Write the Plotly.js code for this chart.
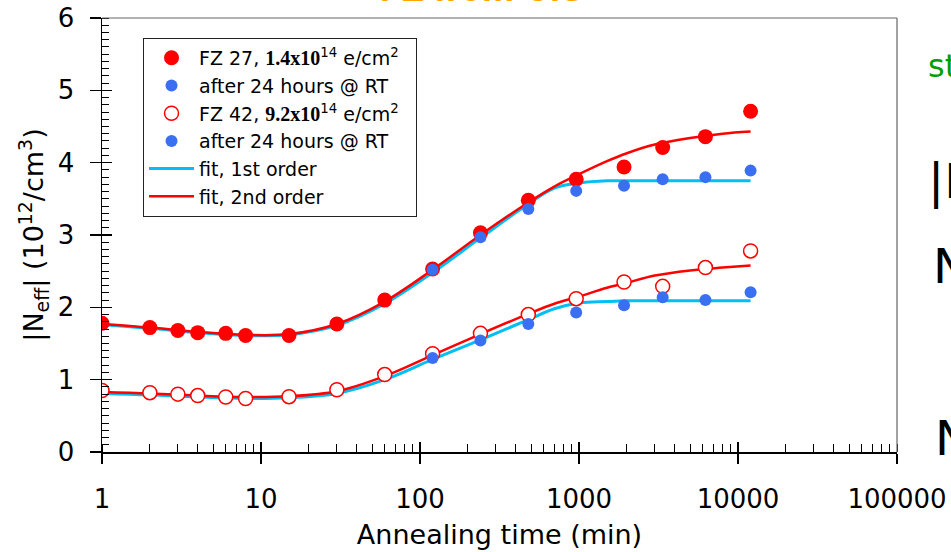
<!DOCTYPE html>
<html>
<head>
<meta charset="utf-8">
<script src="https://cdn.plot.ly/plotly-3.0.1.min.js"></script>
<style>
html,body{margin:0;padding:0;background:#fff;overflow:hidden;width:951px;height:552px;position:relative}
.side{position:absolute;white-space:nowrap;z-index:5;font-family:'DejaVu Sans',sans-serif;}
</style>
</head>
<body>
<div id="chart" style="width:951px;height:552px"></div>
<div class="side" style="left:380px;top:-29px;font-family:'Liberation Sans',sans-serif;font-weight:bold;font-size:36px;line-height:36px;color:#ffa500;">FZ from CiS</div>
<div class="side" style="left:928px;top:50px;font-size:32px;line-height:32px;color:#00a000;">stable damage</div>
<div class="side" style="left:928px;top:157px;font-size:48px;line-height:48px;color:#000;">|N<sub style="font-size:28px">eff</sub>|</div>
<div class="side" style="left:933px;top:242px;font-size:48px;line-height:48px;color:#000;">N<sub style="font-size:28px">C</sub></div>
<div class="side" style="left:935px;top:414px;font-size:48px;line-height:48px;color:#000;">N<sub style="font-size:28px">Y</sub></div>
<script>
// Measured annealing times (min)
const times = [1, 2, 3, 4, 6, 8, 15, 30, 60, 120, 240, 480, 960, 1920, 3360, 6240, 12000];
const fz27 = [1.78, 1.72, 1.68, 1.65, 1.64, 1.61, 1.61, 1.77, 2.10, 2.53, 3.03, 3.48, 3.77, 3.94, 4.21, 4.36, 4.71];
const fz42 = [0.85, 0.82, 0.80, 0.78, 0.76, 0.74, 0.765, 0.86, 1.07, 1.36, 1.64, 1.90, 2.12, 2.35, 2.29, 2.55, 2.78];
// after 24 hours @ RT
const rtTimes = [120, 240, 480, 960, 1920, 3360, 6240, 12000];
const fz27RT = [2.52, 2.97, 3.36, 3.61, 3.68, 3.77, 3.80, 3.89];
const fz42RT = [1.30, 1.54, 1.77, 1.93, 2.03, 2.14, 2.10, 2.21];
// fit curves
const fitT = [1, 2, 4, 8, 15, 30, 60, 120, 240, 480, 700, 1000, 1500, 2000, 3000, 5000, 8000, 12000];
const fit1_27 = [1.76, 1.71, 1.65, 1.61, 1.62, 1.75, 2.05, 2.48, 2.96, 3.43, 3.65, 3.72, 3.75, 3.75, 3.75, 3.75, 3.75, 3.75];
const fit2_27 = [1.77, 1.72, 1.66, 1.62, 1.63, 1.77, 2.08, 2.52, 3.00, 3.45, 3.67, 3.84, 4.02, 4.13, 4.25, 4.34, 4.40, 4.43];
const fit1_42 = [0.81, 0.79, 0.76, 0.74, 0.75, 0.81, 1.00, 1.28, 1.55, 1.83, 1.98, 2.06, 2.08, 2.09, 2.09, 2.09, 2.09, 2.09];
const fit2_42 = [0.83, 0.81, 0.78, 0.76, 0.77, 0.84, 1.05, 1.34, 1.63, 1.91, 2.05, 2.15, 2.27, 2.34, 2.44, 2.51, 2.55, 2.58];

const SERIF = "font-family:'Liberation Serif',serif;font-weight:bold;font-size:20px";
const legendNames = [
  "FZ 27, <span style=\"" + SERIF + "\">1.4x10</span><sup>14</sup> e/cm<sup>2</sup>&nbsp;&nbsp;",
  "after 24 hours @ RT",
  "FZ 42, <span style=\"" + SERIF + "\">9.2x10</span><sup>14</sup> e/cm<sup>2</sup>",
  "after 24 hours @ RT",
  "fit, 1st order",
  "fit, 2nd order"
];

const RED = '#ff0000', BLUE = '#3b6ff2', CYAN = '#00bff3';

const data = [
  {x: fitT, y: fit1_27, mode: 'lines', line: {color: CYAN, width: 3, shape: 'spline'}, name: legendNames[4], legendrank: 5},
  {x: fitT, y: fit1_42, mode: 'lines', line: {color: CYAN, width: 3, shape: 'spline'}, showlegend: false},
  {x: fitT, y: fit2_27, mode: 'lines', line: {color: RED, width: 2.5, shape: 'spline'}, name: legendNames[5], legendrank: 6},
  {x: fitT, y: fit2_42, mode: 'lines', line: {color: RED, width: 2.5, shape: 'spline'}, showlegend: false},
  {x: times, y: fz27, mode: 'markers', marker: {color: RED, size: 15}, name: legendNames[0], legendrank: 1},
  {x: times, y: fz42, mode: 'markers', marker: {color: '#ffffff', size: 14, line: {color: RED, width: 1.5}}, name: legendNames[2], legendrank: 3},
  {x: rtTimes, y: fz27RT, mode: 'markers', marker: {color: BLUE, size: 12}, name: legendNames[1], legendrank: 2},
  {x: rtTimes, y: fz42RT, mode: 'markers', marker: {color: BLUE, size: 12}, name: legendNames[3], legendrank: 4},
  {x: [1], y: [-1], xaxis: 'x2', yaxis: 'y2', mode: 'markers', marker: {opacity: 0}, showlegend: false, hoverinfo: 'skip'}
];

const FONT = 'DejaVu Sans, sans-serif';
const decades = [1, 10, 100, 1000, 10000, 100000];

const layout = {
  width: 951, height: 552,
  margin: {l: 102, r: 54, t: 18, b: 100, pad: 0},
  paper_bgcolor: '#ffffff', plot_bgcolor: '#ffffff',
  font: {family: FONT, color: '#000'},
  showlegend: true,
  legend: {
    x: 0.0516, xanchor: 'left', y: 0.954, yanchor: 'top',
    bgcolor: '#ffffff', bordercolor: '#222', borderwidth: 1,
    font: {family: FONT, size: 19, color: '#000'},
    itemwidth: 45,
    traceorder: 'normal'
  },
  xaxis: {
    type: 'log', range: [0, 5],
    tickmode: 'array', tickvals: decades, ticktext: decades.map(String),
    ticks: 'outside', ticklen: 10, tickwidth: 1.2, tickcolor: '#000',
    ticklabelstandoff: 13,
    minor: {ticks: 'inside', ticklen: 8, tickwidth: 1, tickcolor: '#000', dtick: 'D1', showgrid: false},
    showline: true, linecolor: '#000', linewidth: 1.5,
    showgrid: false, zeroline: false,
    tickfont: {family: FONT, size: 26, color: '#000'},
    title: {text: 'Annealing time (min)', font: {family: FONT, size: 27, color: '#000'}, standoff: 12}
  },
  yaxis: {
    range: [0, 6], dtick: 1, tick0: 0,
    ticks: 'outside', ticklen: 11, tickwidth: 1.2, tickcolor: '#000',
    ticklabelstandoff: 10,
    minor: {ticks: 'inside', ticklen: 7, tickwidth: 1, tickcolor: '#000', dtick: 0.1, showgrid: false},
    showline: true, linecolor: '#000', linewidth: 1.5,
    showgrid: false, zeroline: false,
    tickfont: {family: FONT, size: 26, color: '#000'},
    title: {text: '|N<sub>eff</sub>| (10<sup>12</sup>/cm<sup>3</sup>)', font: {family: FONT, size: 27, color: '#000'}, standoff: 6}
  },
  xaxis2: {
    type: 'log', range: [0, 5], overlaying: 'x', anchor: 'y', side: 'bottom',
    tickmode: 'array', tickvals: decades, ticks: 'inside', ticklen: 10, tickwidth: 1.2, tickcolor: '#000',
    showticklabels: false, showline: false, showgrid: false, zeroline: false
  },
  yaxis2: {
    range: [0, 6], overlaying: 'y', anchor: 'x', side: 'left', dtick: 1, tick0: 0,
    ticks: 'inside', ticklen: 10, tickwidth: 1.2, tickcolor: '#000',
    showticklabels: false, showline: false, showgrid: false, zeroline: false
  },
  shapes: [
    {type: 'line', xref: 'paper', yref: 'paper', x0: 0, x1: 1, y0: 1, y1: 1, line: {color: '#666', width: 1.2}},
    {type: 'line', xref: 'paper', yref: 'paper', x0: 1, x1: 1, y0: 0, y1: 1, line: {color: '#666', width: 1.2}}
  ]
};

Plotly.newPlot('chart', data, layout, {displayModeBar: false, staticPlot: true});
</script>
</body>
</html>
